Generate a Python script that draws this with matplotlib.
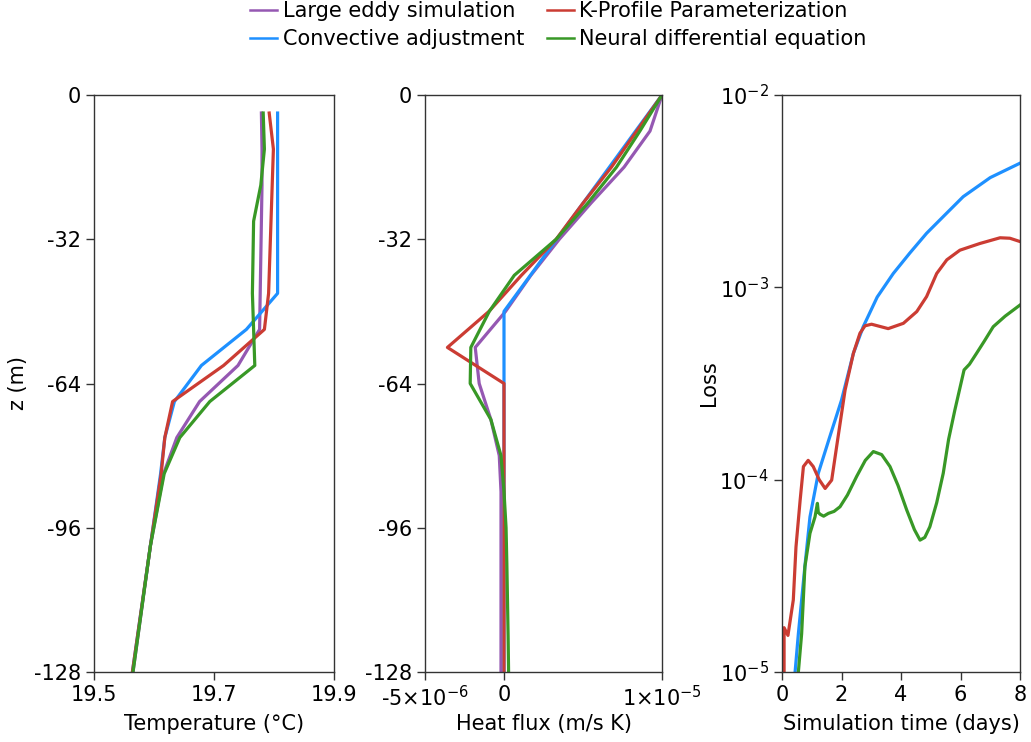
import matplotlib
matplotlib.use("Agg")
import matplotlib.pyplot as plt
from matplotlib.lines import Line2D
from matplotlib.ticker import NullLocator

# --- colours / names
names = ["Large eddy simulation", "Convective adjustment",
         "K-Profile Parameterization", "Neural differential equation"]
c_les, c_ca, c_kpp, c_nde = "#9558b2", "#1e90ff", "#cb3c33", "#389826"

# --- temperature profiles (deg C) vs depth
z_T = [-4, -12, -20, -28, -36, -44, -52, -60, -68, -76, -84, -100, -128]
T_les = [19.779, 19.780, 19.780, 19.779, 19.778, 19.777, 19.776, 19.740, 19.676, 19.638, 19.616, 19.594, 19.565]
T_ca = [19.806, 19.806, 19.806, 19.806, 19.806, 19.806, 19.754, 19.679, 19.634, 19.618, 19.611, 19.594, 19.564]
T_kpp = [19.792, 19.799, 19.797, 19.795, 19.793, 19.791, 19.784, 19.716, 19.631, 19.618, 19.612, 19.594, 19.564]
T_nde = [19.782, 19.784, 19.778, 19.766, 19.765, 19.764, 19.766, 19.768, 19.693, 19.643, 19.617, 19.594, 19.565]

# --- heat flux profiles (m/s K) at cell faces
z_F = [0, -8, -16, -24, -32, -40, -48, -56, -64, -72, -80, -88, -96, -104, -112, -120, -128]
F_les = [1.0e-5, 9.24e-6, 7.6e-6, 5.5e-6, 3.5e-6, 1.7e-6, 0.1e-6, -1.82e-6, -1.57e-6, -0.83e-6,
         -0.3e-6, -0.19e-6, -0.19e-6, -0.19e-6, -0.19e-6, -0.19e-6, -0.19e-6]
F_ca = [1.0e-5, 8.33e-6, 6.67e-6, 5.0e-6, 3.33e-6, 1.67e-6, 0.0, 0.0, 0.0, 0.0,
        0.0, 0.0, 0.0, 0.0, 0.0, 0.0, 0.0]
F_kpp = [1.0e-5, 8.4e-6, 6.8e-6, 5.0e-6, 3.3e-6, 1.1e-6, -0.95e-6, -3.58e-6, 0.0, 0.0,
         0.0, 0.0, 0.0, 0.0, 0.0, 0.0, 0.0]
F_nde = [1.0e-5, 8.6e-6, 7.12e-6, 5.3e-6, 3.3e-6, 0.65e-6, -0.93e-6, -2.1e-6, -2.14e-6, -0.83e-6,
         -0.19e-6, 0.0, 0.13e-6, 0.18e-6, 0.22e-6, 0.26e-6, 0.29e-6]

# --- loss vs simulation time (days)
t_ca = [0.40, 0.44, 0.55, 0.77, 0.94, 1.22, 1.60, 2.00, 2.40, 2.73, 3.20, 3.74, 4.30, 4.86, 5.50, 6.09, 7.00, 8.00]
L_ca = [7.9e-6, 1.0e-5, 1.58e-5, 3.55e-5, 6.4e-5, 1.08e-4, 1.66e-4, 2.59e-4, 4.54e-4, 6.24e-4,
        8.9e-4, 1.18e-3, 1.51e-3, 1.91e-3, 2.40e-3, 2.96e-3, 3.72e-3, 4.42e-3]

t_kpp = [0.07, 0.07, 0.20, 0.38, 0.47, 0.61, 0.72, 0.88, 1.05, 1.25, 1.45, 1.67, 1.87, 2.12, 2.40,
         2.62, 2.79, 3.01, 3.57, 4.08, 4.53, 4.86, 5.20, 5.54, 5.98, 6.65, 7.33, 7.66, 8.00]
L_kpp = [7.9e-6, 1.70e-5, 1.55e-5, 2.37e-5, 4.47e-5, 7.83e-5, 1.17e-4, 1.26e-4, 1.17e-4, 1.0e-4,
         9.0e-5, 9.95e-5, 1.61e-4, 2.92e-4, 4.54e-4, 5.77e-4, 6.31e-4, 6.43e-4, 6.10e-4, 6.50e-4,
         7.48e-4, 8.95e-4, 1.18e-3, 1.39e-3, 1.56e-3, 1.69e-3, 1.81e-3, 1.80e-3, 1.73e-3]

t_nde = [0.50, 0.55, 0.66, 0.77, 0.94, 1.11, 1.19, 1.22, 1.28, 1.40, 1.56, 1.75, 1.95, 2.20, 2.51,
         2.80, 3.07, 3.35, 3.63, 3.90, 4.19, 4.45, 4.64, 4.80, 4.97, 5.20, 5.42, 5.60, 5.81, 6.12,
         6.30, 6.54, 6.80, 7.10, 7.50, 8.00]
L_nde = [7.9e-6, 1.0e-5, 1.58e-5, 3.53e-5, 5.26e-5, 6.41e-5, 7.53e-5, 6.76e-5, 6.61e-5, 6.46e-5,
         6.68e-5, 6.84e-5, 7.23e-5, 8.32e-5, 1.04e-4, 1.26e-4, 1.40e-4, 1.35e-4, 1.17e-4, 9.33e-5,
         6.97e-5, 5.50e-5, 4.85e-5, 5.01e-5, 5.69e-5, 7.59e-5, 1.08e-4, 1.62e-4, 2.30e-4, 3.72e-4,
         3.98e-4, 4.54e-4, 5.25e-4, 6.24e-4, 7.08e-4, 8.09e-4]

plt.rcParams["font.family"] = ["DejaVu Sans"]
lw = 2.3
fs = 15
spine_col = "#333333"

fig = plt.figure(figsize=(10.31, 7.42), dpi=100)
ax1 = fig.add_axes([94 / 1031, 70 / 742, 240 / 1031, 577 / 742])
ax2 = fig.add_axes([425 / 1031, 70 / 742, 237 / 1031, 577 / 742])
ax3 = fig.add_axes([782 / 1031, 70 / 742, 238 / 1031, 577 / 742])

ax1.plot(T_les, z_T, color=c_les, lw=lw)
ax1.plot(T_ca, z_T, color=c_ca, lw=lw)
ax1.plot(T_kpp, z_T, color=c_kpp, lw=lw)
ax1.plot(T_nde, z_T, color=c_nde, lw=lw)
ax1.set_xlim(19.5, 19.9)
ax1.set_xticks([19.5, 19.7, 19.9])
ax1.set_xticklabels(["19.5", "19.7", "19.9"])
ax1.set_xlabel("Temperature (°C)", fontsize=fs)
ax1.set_ylabel("z (m)", fontsize=fs, labelpad=4)

ax2.plot(F_les, z_F, color=c_les, lw=lw)
ax2.plot(F_ca, z_F, color=c_ca, lw=lw)
ax2.plot(F_kpp, z_F, color=c_kpp, lw=lw)
ax2.plot(F_nde, z_F, color=c_nde, lw=lw)
ax2.set_xlim(-5e-6, 1e-5)
ax2.set_xticks([-5e-6, 0, 1e-5])
ax2.set_xticklabels([r"-5×10$^{-6}$", "0", r"1×10$^{-5}$"])
ax2.set_xlabel("Heat flux (m/s K)", fontsize=fs)

for ax in (ax1, ax2):
    ax.set_ylim(-128, 0)
    ax.set_yticks([0, -32, -64, -96, -128])
    ax.set_yticklabels(["0", "-32", "-64", "-96", "-128"])

ax3.plot(t_ca, L_ca, color=c_ca, lw=lw)
ax3.plot(t_kpp, L_kpp, color=c_kpp, lw=lw)
ax3.plot(t_nde, L_nde, color=c_nde, lw=lw)
ax3.set_yscale("log")
ax3.set_ylim(1e-5, 1e-2)
ax3.set_xlim(0, 8)
ax3.set_xticks([0, 2, 4, 6, 8])
ax3.set_yticks([1e-5, 1e-4, 1e-3, 1e-2])
ax3.yaxis.set_minor_locator(NullLocator())
ax3.set_xlabel("Simulation time (days)", fontsize=fs)
ax3.set_ylabel("Loss", fontsize=fs, labelpad=0)

for ax in (ax1, ax2, ax3):
    for s in ax.spines.values():
        s.set_color(spine_col)
        s.set_linewidth(1.0)
    ax.tick_params(direction="out", length=6, width=1, color=spine_col, labelsize=fs)
    ax.xaxis.set_label_coords(0.5, -0.072)

handles = [Line2D([], [], color=c, lw=1.8) for c in (c_les, c_ca, c_kpp, c_nde)]
fig.legend(handles, names, loc="center", bbox_to_anchor=(558.5 / 1031, 1 - 25 / 742), ncol=2,
           frameon=False, fontsize=fs, handlelength=1.3, handletextpad=0.25,
           columnspacing=1.1, labelspacing=0.4, borderpad=0.1)

fig.savefig("out.png", dpi=100)
